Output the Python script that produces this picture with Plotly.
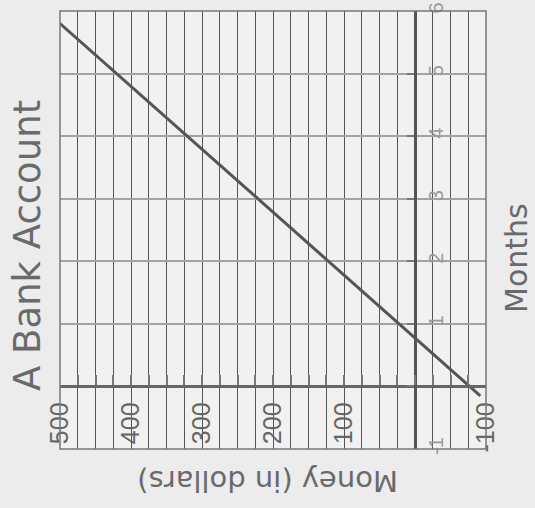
import plotly.graph_objects as go

# Data (chart is shown rotated: money runs horizontally, months vertically)
line_months = [-0.15, 5.8]
line_money = [-92, 500]

money_ticks = [500, 400, 300, 200, 100, 0, -100]
money_labels = ["500", "400", "300", "200", "100", "", "-100"]
month_ticks = [-1, 0, 1, 2, 3, 4, 5, 6]
month_labels = ["-1", "", "1", "2", "3", "4", "5", "6"]

title_text = "A Bank Account"
money_title = "Money (in dollars)"
month_title = "Months"

W, H = 535, 508
L, R, T, B = 60, 49, 11, 59
pw = W - L - R
ph = H - T - B

def px_x(px):
    return (px - L) / pw

def px_y(py):
    return (H - B - py) / ph

fig = go.Figure()
fig.add_trace(go.Scatter(
    x=line_money, y=line_months, mode="lines",
    line=dict(color="#555555", width=3), showlegend=False, hoverinfo="skip"))

fig.update_layout(
    width=W, height=H,
    margin=dict(l=L, r=R, t=T, b=B, autoexpand=False),
    paper_bgcolor="#ececec",
    plot_bgcolor="#f1f1f1",
    showlegend=False,
    xaxis=dict(
        range=[500, -100],
        tickmode="array", tickvals=money_ticks, ticktext=money_labels,
        tickangle=-90,
        tickfont=dict(family="Liberation Sans, Arial, sans-serif", size=25, color="#666666"),
        ticks="inside", ticklen=10, tickwidth=2, tickcolor="#777777",
        showgrid=True, gridcolor="#555555", gridwidth=1.3,
        minor=dict(dtick=25, tick0=0, ticks="inside", ticklen=10, tickwidth=2,
                   tickcolor="#777777", showgrid=True, gridcolor="#555555", gridwidth=1.3),
        zeroline=False,
        showline=True, linecolor="#666666", linewidth=3,
        anchor="free", position=1/7, side="bottom",
        ticklabelstandoff=4, automargin=False,
    ),
    yaxis=dict(
        range=[-1, 6],
        tickmode="array", tickvals=month_ticks, ticktext=month_labels,
        tickangle=-90,
        tickfont=dict(family="Liberation Sans, Arial, sans-serif", size=20, color="#9a9a9a"),
        ticks="inside", ticklen=7, tickwidth=2, tickcolor="#777777",
        showgrid=True, gridcolor="#a3a3a3", gridwidth=2,
        zeroline=False,
        showline=True, linecolor="#555555", linewidth=3,
        anchor="free", position=500/600, side="right",
        ticklabelstandoff=2, automargin=False,
    ),
    shapes=[dict(type="rect", xref="paper", yref="paper", x0=0, x1=1, y0=0, y1=1,
                 line=dict(color="#777777", width=1.5), layer="above")],
    annotations=[
        dict(text=title_text, xref="paper", yref="paper", x=px_x(27), y=px_y(246),
             textangle=-90, showarrow=False, xanchor="center", yanchor="middle",
             font=dict(family="DejaVu Sans, sans-serif", size=37, color="#6a6a6a")),
        dict(text=month_title, xref="paper", yref="paper", x=px_x(516), y=px_y(258),
             textangle=-90, showarrow=False, xanchor="center", yanchor="middle",
             font=dict(family="DejaVu Sans, sans-serif", size=30, color="#6a6a6a")),
        dict(text=money_title, xref="paper", yref="paper", x=px_x(268), y=px_y(481),
             textangle=180, showarrow=False, xanchor="center", yanchor="middle",
             font=dict(family="DejaVu Sans, sans-serif", size=29, color="#6a6a6a")),
    ],
)

fig.write_html(
    "out.html",
    config={"displayModeBar": False},
    post_script="document.body.style.margin='0';document.body.style.overflow='hidden';",
)
